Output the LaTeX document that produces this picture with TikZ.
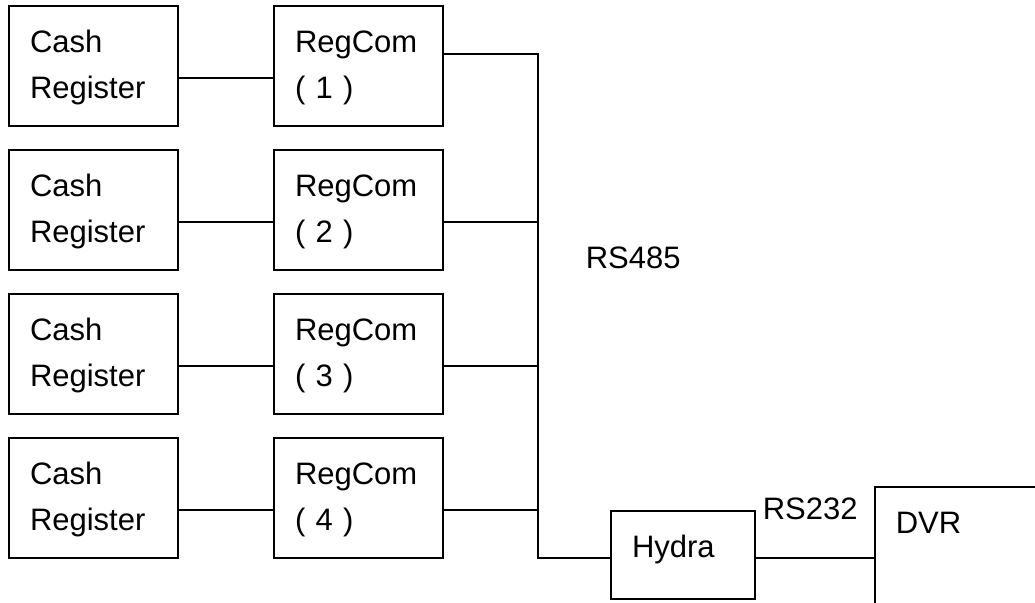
\documentclass[tikz,border=0pt]{standalone}
\usepackage{fontspec}
\setmainfont{Liberation Sans}
\begin{document}
\begin{tikzpicture}[x=1pt, y=-1pt, line width=1.6pt,
  font=\fontsize{31}{46}\selectfont,
  unit/.style={draw, inner xsep=21pt, inner ysep=0pt, align=left, text width=127pt, minimum height=120pt, execute at begin node={\rule{0pt}{25pt}}},
  single/.style={draw, inner xsep=21pt, inner ysep=0pt, align=left},
  tag/.style={anchor=base west, inner sep=0pt}]
\clip (0,0) rectangle (1035,602);
\node[unit] at (93.5,66) (cash1) {Cash\\Register};
\node[unit] at (93.5,210) (cash2) {Cash\\Register};
\node[unit] at (93.5,354) (cash3) {Cash\\Register};
\node[unit] at (93.5,498) (cash4) {Cash\\Register};
\node[unit] at (358.5,66) (reg1) {RegCom\\( 1 )};
\node[unit] at (358.5,210) (reg2) {RegCom\\( 2 )};
\node[unit] at (358.5,354) (reg3) {RegCom\\( 3 )};
\node[unit] at (358.5,498) (reg4) {RegCom\\( 4 )};
\node[single, text width=102pt, minimum height=88pt, text height=21pt, text depth=17pt] at (683,555) (hydra) {Hydra};
\node[single, anchor=north west, text width=200pt, text height=47pt, text depth=113pt] at (874,486) (dvr) {DVR};
\coordinate (bustop) at (538,54);
\coordinate (busbot) at (538,558);
\node[tag] at (585,268) (rs485) {RS485};
\node[tag] at (762,519) (rs232) {RS232};
% register to regcom
\draw ([yshift=-12pt]cash1.east) -- ([yshift=-12pt]reg1.west);
\draw ([yshift=-12pt]cash2.east) -- ([yshift=-12pt]reg2.west);
\draw ([yshift=-12pt]cash3.east) -- ([yshift=-12pt]reg3.west);
\draw ([yshift=-12pt]cash4.east) -- ([yshift=-12pt]reg4.west);
% rs485 bus
\draw ([yshift=12pt]reg1.east) -- (bustop) -- (busbot) -- (busbot -| hydra.west);
\draw ([yshift=-12pt]reg2.east) -- ([yshift=-12pt]reg2.east -| bustop);
\draw ([yshift=-12pt]reg3.east) -- ([yshift=-12pt]reg3.east -| bustop);
\draw ([yshift=-12pt]reg4.east) -- ([yshift=-12pt]reg4.east -| bustop);
\draw (busbot -| hydra.east) -- (busbot -| dvr.west);
\end{tikzpicture}
\end{document}
